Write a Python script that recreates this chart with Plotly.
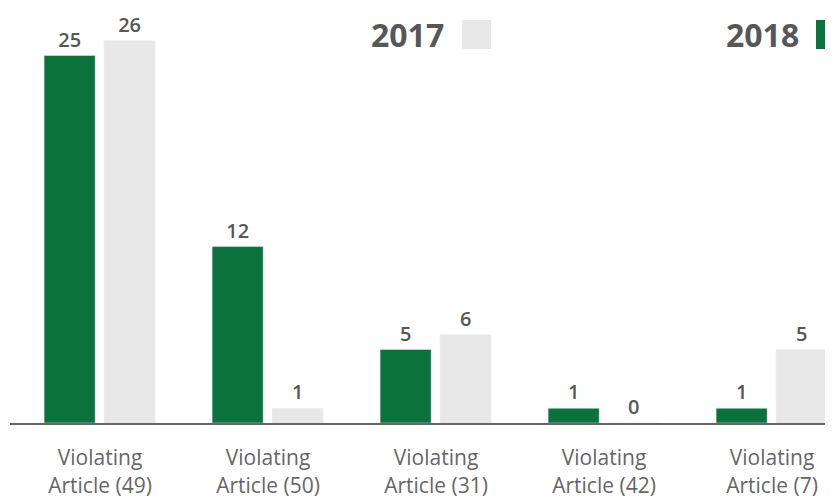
import plotly.graph_objects as go

# data
categories = ["Violating<br>Article (49)", "Violating<br>Article (50)", "Violating<br>Article (31)",
              "Violating<br>Article (42)", "Violating<br>Article (7)"]
cases_2018 = [25, 12, 5, 1, 1]
cases_2017 = [26, 1, 6, 0, 5]

GREEN = "#0a723b"
GREY = "#e8e8e8"
TEXT = "#575757"

# page body has an 8px margin, so work in figure pixels = window pixels - 8
W, H = 833, 497
ML, MB, MT, MR = 2, 82, 0, 0
plot_w = W - ML - MR
plot_h = H - MB - MT


def px_x(v):
    return (v - 8 - ML) / plot_w


def px_y(v):
    return (H - MB - (v - 8)) / plot_h


x = list(range(len(categories)))

fig = go.Figure()
fig.add_trace(go.Bar(
    x=x, y=cases_2018, name="2018", marker_color=GREEN,
    width=0.304, offset=-0.333,
    text=cases_2018, textposition="outside", cliponaxis=False,
    textfont=dict(family="Open Sans", size=20, color=TEXT, weight=600),
))
fig.add_trace(go.Bar(
    x=x, y=cases_2017, name="2017", marker_color=GREY,
    width=0.304, offset=0.024,
    text=cases_2017, textposition="outside", cliponaxis=False,
    textfont=dict(family="Open Sans", size=20, color=TEXT, weight=600),
))

# legend drawn as text + squares (square sits to the right of the year)
for label, right, sq_x0, colour in [("2017", 446, 462, GREY), ("2018", 801, 816, GREEN)]:
    fig.add_annotation(x=px_x(right), y=px_y(34), xref="paper", yref="paper", text=label,
                       showarrow=False, xanchor="right", yanchor="middle",
                       font=dict(family="Open Sans", size=32, color=TEXT, weight=700))
    fig.add_shape(type="rect", xref="paper", yref="paper",
                  x0=px_x(sq_x0), x1=px_x(sq_x0 + 29),
                  y0=px_y(49), y1=px_y(20),
                  fillcolor=colour, line=dict(width=0))

fig.update_layout(
    width=W, height=H,
    margin=dict(l=ML, r=MR, t=MT, b=MB),
    paper_bgcolor="white", plot_bgcolor="white",
    barmode="overlay", showlegend=False,
    xaxis=dict(
        tickmode="array", tickvals=x, ticktext=categories,
        range=[-0.536, -0.536 + plot_w / 168], showgrid=False, zeroline=False,
        showline=True, linecolor="#666666", linewidth=2,
        ticks="", ticklabelstandoff=15,
        tickfont=dict(family="Open Sans", size=21, color="#666666"),
    ),
    yaxis=dict(range=[0, plot_h / 14.7], visible=False),
)

fig.write_html("out.html")
